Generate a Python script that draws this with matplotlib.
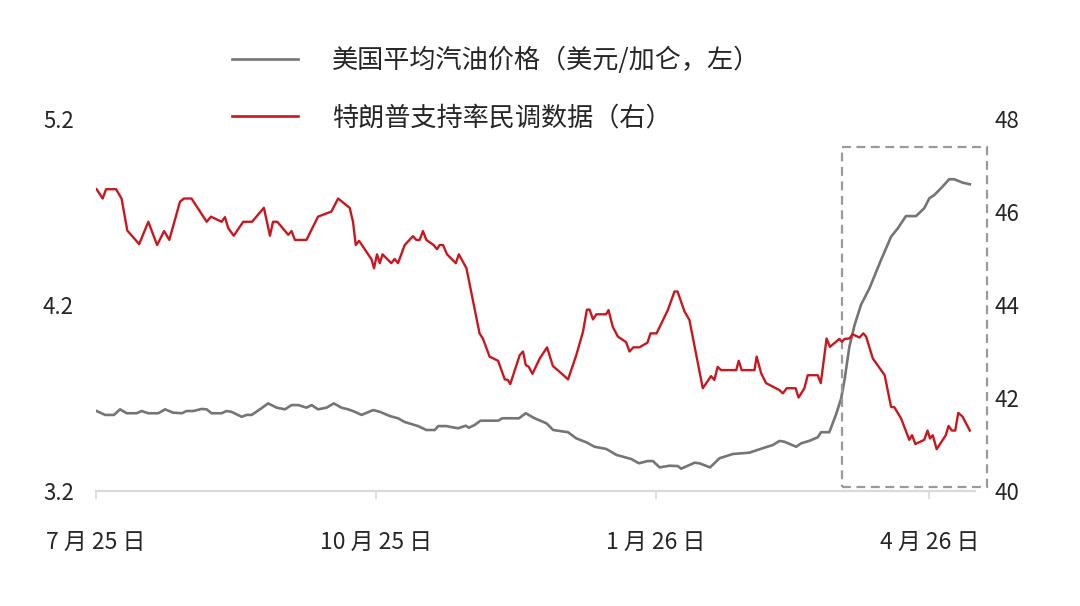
import matplotlib.pyplot as plt
from matplotlib.patches import Rectangle
from matplotlib.lines import Line2D

plt.rcParams['font.family'] = ['Noto Sans CJK SC', 'DejaVu Sans']

# days since 2025-07-01
gas_days = [0.2, 3.0, 5.9, 7.9, 10.1, 13.4, 15.0, 17.2, 20.5, 22.7, 25.4, 28.2, 29.8, 32.0,
            34.7, 36.4, 38.0, 41.3, 42.9, 44.5, 47.9, 49.5, 51.2, 54.4, 56.6, 59.4, 62.1,
            64.3, 66.5, 69.2, 70.9, 73.0, 75.8, 78.2, 80.7, 82.9, 85.1, 87.3, 91.1, 93.3,
            96.6, 99.3, 101.5, 105.9, 108.6, 111.4, 112.5, 115.2, 119.0, 121.6, 122.6,
            124.5, 126.4, 132.2, 133.6, 139.1, 141.3, 144.2, 148.1, 150.3, 155.2, 157.9,
            161.2, 163.9, 167.8, 171.1, 176.0, 178.5, 181.4, 183.1, 185.3, 188.6, 191.3,
            192.4, 196.8, 198.4, 201.9, 205.0, 209.4, 214.8, 218.1, 222.5, 224.7, 226.3,
            230.2, 231.8, 234.6, 237.3, 238.4, 241.1, 243.3, 245.0, 246.1, 247.7, 249.4,
            251.5, 254.3, 258.1, 261.4, 263.6, 266.3, 269.6, 272.3, 274.0, 275.6, 278.3,
            280.5, 282.2, 284.9, 287.3]
gas_price = [3.630, 3.609, 3.609, 3.639, 3.618, 3.618, 3.630, 3.618, 3.618, 3.639, 3.621,
             3.618, 3.630, 3.630, 3.641, 3.639, 3.618, 3.618, 3.630, 3.626, 3.599, 3.609,
             3.609, 3.645, 3.671, 3.648, 3.639, 3.662, 3.662, 3.648, 3.662, 3.639, 3.648,
             3.671, 3.648, 3.639, 3.626, 3.609, 3.635, 3.626, 3.603, 3.591, 3.571, 3.549,
             3.528, 3.528, 3.549, 3.549, 3.537, 3.551, 3.540, 3.555, 3.578, 3.578, 3.591,
             3.591, 3.618, 3.591, 3.564, 3.528, 3.516, 3.483, 3.462, 3.438, 3.426, 3.394,
             3.372, 3.349, 3.361, 3.361, 3.327, 3.336, 3.334, 3.320, 3.352, 3.349, 3.327,
             3.376, 3.399, 3.406, 3.424, 3.447, 3.469, 3.465, 3.438, 3.456, 3.470, 3.489,
             3.516, 3.516, 3.611, 3.698, 3.797, 3.976, 4.092, 4.200, 4.290, 4.442, 4.567,
             4.612, 4.678, 4.678, 4.720, 4.774, 4.791, 4.836, 4.876, 4.876, 4.858, 4.849]

poll_days = [0.2, 2.2, 3.3, 6.6, 8.4, 10.3, 14.2, 17.2, 20.1, 22.4, 24.1, 27.6, 28.9, 31.4,
             36.4, 37.8, 41.3, 42.4, 43.5, 45.3, 48.4, 51.3, 55.2, 57.2, 58.2, 59.6, 63.2,
             64.3, 65.4, 69.2, 73.0, 77.4, 79.6, 83.4, 84.5, 85.4, 86.5, 90.6, 91.4, 92.4,
             93.3, 94.2, 97.1, 98.2, 99.3, 101.5, 104.2, 105.3, 106.4, 107.5, 108.6, 111.0,
             112.1, 113.0, 114.1, 115.4, 118.3, 119.3, 121.8, 126.1, 127.2, 129.4, 132.2,
             134.4, 135.4, 136.2, 139.3, 140.4, 141.3, 142.3, 143.5, 145.9, 148.3, 150.2,
             153.0, 155.2, 157.9, 160.1, 161.4, 162.3, 163.4, 164.5, 167.7, 168.5, 169.9,
             171.6, 174.3, 175.4, 176.7, 178.7, 181.3, 182.3, 184.3, 188.0, 190.2, 191.2,
             193.5, 195.1, 199.5, 202.2, 203.3, 204.4, 205.5, 210.5, 211.3, 212.3, 216.5,
             217.2, 218.7, 220.3, 224.7, 225.8, 227.1, 230.0, 231.0, 232.9, 234.0, 237.3,
             238.3, 240.2, 241.3, 244.4, 245.3, 246.1, 247.7, 248.8, 251.0, 252.3, 253.2,
             255.4, 259.3, 261.4, 262.5, 264.7, 267.4, 268.3, 269.4, 272.3, 273.4, 274.2,
             275.1, 276.4, 279.4, 280.3, 281.4, 282.5, 283.5, 284.9, 287.3]
approval = [46.49, 46.29, 46.49, 46.49, 46.29, 45.60, 45.31, 45.79, 45.29, 45.59, 45.40,
            46.22, 46.29, 46.29, 45.79, 45.90, 45.79, 45.89, 45.65, 45.49, 45.79, 45.79,
            46.09, 45.49, 45.79, 45.79, 45.51, 45.59, 45.40, 45.40, 45.90, 46.01, 46.29,
            46.09, 45.79, 45.29, 45.38, 44.98, 44.79, 45.09, 44.90, 45.09, 44.90, 44.99,
            44.90, 45.29, 45.48, 45.40, 45.40, 45.59, 45.40, 45.29, 45.20, 45.29, 45.29,
            45.09, 44.90, 45.09, 44.79, 43.39, 43.28, 42.89, 42.80, 42.40, 42.39, 42.30,
            42.92, 43.00, 42.71, 42.67, 42.52, 42.85, 43.09, 42.69, 42.53, 42.40, 42.92,
            43.42, 43.90, 43.90, 43.69, 43.80, 43.80, 43.89, 43.53, 43.32, 43.20, 43.00,
            43.09, 43.09, 43.19, 43.39, 43.39, 43.89, 44.29, 44.29, 43.86, 43.68, 42.21,
            42.47, 42.39, 42.67, 42.60, 42.60, 42.80, 42.60, 42.60, 42.89, 42.53, 42.32,
            42.17, 42.10, 42.21, 42.21, 42.01, 42.21, 42.49, 42.49, 42.32, 43.28, 43.10,
            43.27, 43.21, 43.27, 43.28, 43.37, 43.30, 43.39, 43.32, 42.85, 42.49, 41.81,
            41.80, 41.56, 41.10, 41.20, 41.01, 41.10, 41.30, 41.13, 41.20, 40.90, 41.20,
            41.40, 41.30, 41.30, 41.68, 41.60, 41.30]

tick_days = [0, 92, 184, 274]
tick_labels = ['7 月 25 日', '10 月 25 日', '1 月 26 日', '4 月 26 日']
left_ticks = [3.2, 4.2, 5.2]
right_ticks = [40, 42, 44, 46, 48]
gas_label = '美国平均汽油价格（美元/加仑，左）'
poll_label = '特朗普支持率民调数据（右）'

gray = '#757575'
red = '#c9171e'
txt = '#262626'

fig = plt.figure(figsize=(10.8, 6.06), dpi=100)
ax = fig.add_axes([96 / 1080, 1 - 491 / 606, (975 - 96) / 1080, (491 - 119) / 606])
ax2 = ax.twinx()

ax.plot(gas_days, gas_price, color=gray, lw=1.9, zorder=3)
ax2.plot(poll_days, approval, color=red, lw=1.7)

ax.set_xlim(0, 289)
ax.set_ylim(3.2, 5.2)
ax2.set_ylim(40, 48)
ax.set_yticks(left_ticks)
ax.set_yticklabels([f'{v:.1f}' for v in left_ticks])
ax2.set_yticks(right_ticks)
ax.set_xticks(tick_days)
ax.set_xticklabels(tick_labels, fontsize=16.5, color=txt)

for a in (ax, ax2):
    for s in ('top', 'left', 'right'):
        a.spines[s].set_visible(False)
    a.spines['bottom'].set_color('#d9d9d9')
    a.spines['bottom'].set_linewidth(1.5)
ax.tick_params(axis='x', length=6, width=1.2, color='#d9d9d9', pad=23)
ax.tick_params(axis='y', length=0, pad=16, labelsize=16, labelcolor=txt)
ax2.tick_params(axis='y', length=0, pad=14, labelsize=16, labelcolor=txt)

# dashed box around the latest months
box = Rectangle((245.2, 3.223), 47.9, 1.825, fill=False, edgecolor='#9a9a9a',
                lw=1.6, linestyle=(0, (4, 2.5)), clip_on=False, zorder=4)
ax.add_patch(box)

handles = [Line2D([], [], color=gray, lw=1.9), Line2D([], [], color=red, lw=1.9)]
fig.legend(handles, [gas_label, poll_label], loc='upper left',
           bbox_to_anchor=(232 / 1080, 1 - 47 / 606), frameon=False, fontsize=18.8,
           handlelength=2.53, handletextpad=1.3, labelspacing=1.15,
           borderpad=0, borderaxespad=0, labelcolor=txt)

fig.savefig('out.png', dpi=100, facecolor='white')
